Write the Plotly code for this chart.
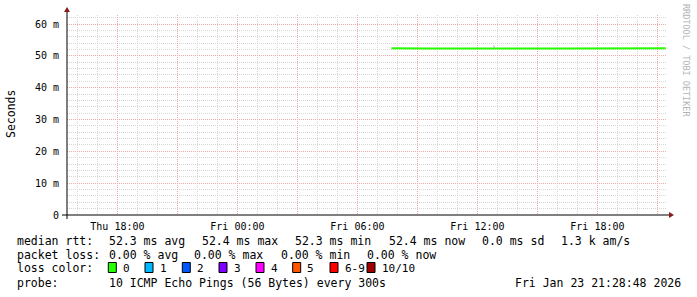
import plotly.graph_objects as go

# ---------------- data ----------------
x_start = "2026-01-22 15:28:48"
x_end = "2026-01-23 21:28:48"

median_times = ["2026-01-23 07:42", "2026-01-23 08:30", "2026-01-23 09:30", "2026-01-23 10:30",
                "2026-01-23 11:30", "2026-01-23 12:30", "2026-01-23 13:30", "2026-01-23 14:30",
                "2026-01-23 15:30", "2026-01-23 16:30", "2026-01-23 17:30", "2026-01-23 18:30",
                "2026-01-23 19:30", "2026-01-23 20:30", "2026-01-23 21:25"]
median_ms = [52.4, 52.3, 52.3, 52.3, 52.4, 52.3, 52.3, 52.4, 52.3, 52.3, 52.3, 52.4, 52.3, 52.3, 52.4]

smoke_times = ["2026-01-23 12:50"]
smoke_low = [52.4]
smoke_high = [53.3]

y_tick_vals = [0, 10, 20, 30, 40, 50, 60]
y_tick_text = ["0", "10 m", "20 m", "30 m", "40 m", "50 m", "60 m"]
y_max = 62.83

loss_labels = ["0", "1", "2", "3", "4", "5", "6-9", "10/10"]
loss_colors = ["#26ff00", "#00b8ff", "#0059ff", "#7e00ff", "#ff00ff", "#ff5500", "#ff0000", "#a10000"]

rtt_stats = ["52.3 ms avg", "52.4 ms max", "52.3 ms min", "52.4 ms now", "0.0 ms sd", "1.3 k am/s"]
loss_stats = ["0.00 % avg", "0.00 % max", "0.00 % min", "0.00 % now"]
probe_text = "10 ICMP Echo Pings (56 Bytes) every 300s"
stamp_text = "Fri Jan 23 21:28:48 2026"

# ---------------- geometry helpers ----------------
W, H = 697, 297
L, R, T, B = 67, 667, 15, 215
def px(x):
    return (x - L) / (R - L)
def py(y):
    return (B - y) / (B - T)

MONO = "DejaVu Sans Mono"
fig = go.Figure()

fig.add_trace(go.Scatter(x=median_times, y=median_ms, mode="lines",
                         line=dict(color=loss_colors[0], width=2), hoverinfo="skip"))
for t, lo, hi in zip(smoke_times, smoke_low, smoke_high):
    fig.add_trace(go.Scatter(x=[t, t], y=[lo, hi], mode="lines",
                             line=dict(color="#b0b0b0", width=1), hoverinfo="skip"))
# carrier trace for label axis
fig.add_trace(go.Scatter(x=[x_start, x_end], y=[None, None], xaxis="x2", mode="lines",
                         hoverinfo="skip", showlegend=False))

major_grid = "#eeaaaa"
minor_grid = "#d6d6d6"

fig.update_layout(
    width=W, height=H,
    margin=dict(l=L, r=W - R, t=T, b=H - B),
    paper_bgcolor="white", plot_bgcolor="white",
    showlegend=False,
    xaxis=dict(type="date", range=[x_start, x_end], showticklabels=False,
               tick0="2026-01-22 18:00", dtick=3 * 3600000,
               showgrid=True, gridcolor=major_grid, griddash="1px,1px", gridwidth=1,
               minor=dict(dtick=3600000, tick0="2026-01-22 18:00", showgrid=True,
                          gridcolor=minor_grid, griddash="1px,1px", gridwidth=1),
               zeroline=False, showline=False, ticks=""),
    xaxis2=dict(type="date", range=[x_start, x_end], overlaying="x", side="bottom",
                tick0="2026-01-22 18:00", dtick=6 * 3600000, tickformat="%a %H:%M",
                showgrid=False, zeroline=False, showline=False,
                ticks="outside", ticklen=2, tickcolor="rgba(0,0,0,0)",
                tickfont=dict(family=MONO, size=10, color="#000")),
    yaxis=dict(range=[0, y_max], tickmode="array", tickvals=y_tick_vals, ticktext=y_tick_text,
               showgrid=True, gridcolor=major_grid, griddash="1px,1px", gridwidth=1,
               minor=dict(dtick=2, showgrid=True, gridcolor=minor_grid, griddash="1px,1px"),
               zeroline=False, showline=False, ticks="", ticklabelstandoff=7,
               tickfont=dict(family=MONO, size=10, color="#000")),
)

shapes = []
# axes lines
shapes.append(dict(type="line", xref="paper", yref="paper", x0=px(62), x1=px(669), y0=py(215), y1=py(215),
                   line=dict(color="#000", width=1)))
shapes.append(dict(type="line", xref="paper", yref="paper", x0=px(67), x1=px(67), y0=py(219), y1=py(11),
                   line=dict(color="#000", width=1)))
# arrows
shapes.append(dict(type="path", xref="paper", yref="paper",
                   path=f"M {px(669)} {py(212)} L {px(674)} {py(215)} L {px(669)} {py(218)} Z",
                   fillcolor="#8b1a1a", line=dict(color="#8b1a1a", width=0)))
shapes.append(dict(type="path", xref="paper", yref="paper",
                   path=f"M {px(64)} {py(12)} L {px(67)} {py(7)} L {px(70)} {py(12)} Z",
                   fillcolor="#8b1a1a", line=dict(color="#8b1a1a", width=0)))

ann = []
FS = 11.5
def text(x, y, s, size=FS, color="#000", **kw):
    ann.append(dict(x=px(x), y=py(y), xref="paper", yref="paper", text=s, showarrow=False,
                    xanchor=kw.pop("xanchor", "left"), yanchor="middle", borderpad=0,
                    font=dict(family=MONO, size=size, color=color), **kw))

# y title
text(11, 114, "Seconds", xanchor="center", textangle=-90)
# watermark
text(686, 60, "RRDTOOL / TOBI OETIKER", size=8.5, color="#b4b4b4", xanchor="center", textangle=90)

row_y = [241, 254.5, 268, 282.5]
text(16, row_y[0], "median rtt:")
for xx, s in zip([108, 201, 294, 387.5, 481, 560], rtt_stats):
    text(xx, row_y[0], s)
text(16, row_y[1], "packet loss:")
for xx, s in zip([108, 193.3, 280.4, 366], loss_stats):
    text(xx, row_y[1], s)
text(16, row_y[2], "loss color:")
box_x = [108.3, 145, 182.3, 219, 256, 292.7, 330, 367]
for bx, lab, col in zip(box_x, loss_labels, loss_colors):
    shapes.append(dict(type="rect", xref="paper", yref="paper",
                       x0=px(bx), x1=px(bx + 8), y0=py(272.5), y1=py(262.5),
                       fillcolor=col, line=dict(color="#000", width=1)))
    text(bx + 13.5, row_y[2], lab, size=11)
text(16, row_y[3], "probe:")
text(108, row_y[3], probe_text)
text(513.5, row_y[3], stamp_text)

fig.update_layout(shapes=shapes, annotations=ann)
fig.write_html("out.html")
